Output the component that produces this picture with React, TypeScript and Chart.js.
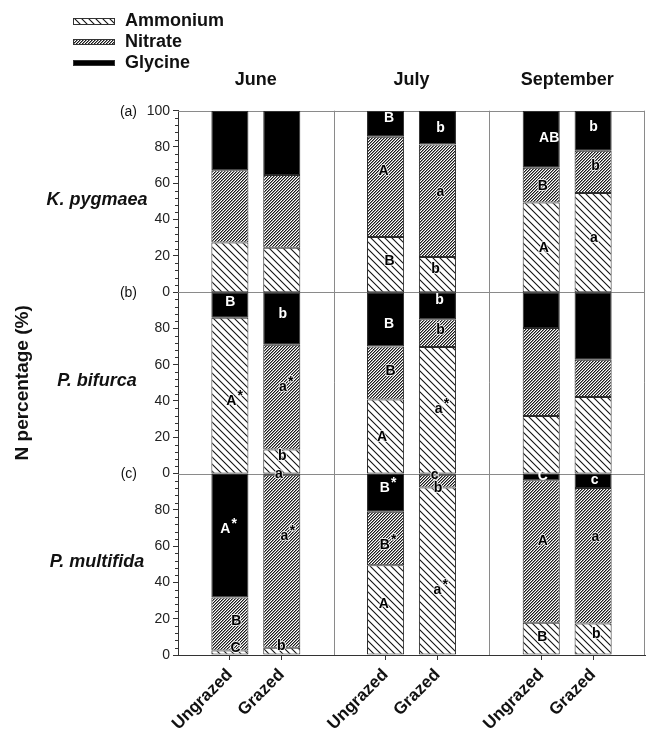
import React, { useEffect, useRef } from 'react';
import { Chart, registerables } from 'chart.js';

Chart.register(...registerables);

const FONT = "'Liberation Sans', Arial, Helvetica, sans-serif";

const months = ['June', 'July', 'September'];
const treatments = ['Ungrazed', 'Grazed'];
const nutrients = ['Ammonium', 'Nitrate', 'Glycine'];
const species = ['K. pygmaea', 'P. bifurca', 'P. multifida'];
const panelTags = ['(a)', '(b)', '(c)'];

// order of bars: June-Ungrazed, June-Grazed, July-Ungrazed, July-Grazed, Sept-Ungrazed, Sept-Grazed
const kpAmmonium = [27.3, 24.5, 30.4, 19.3, 49.4, 54.7];
const kpNitrate = [39.9, 40.0, 55.2, 62.1, 19.1, 23.2];
const kpGlycine = [32.8, 35.5, 14.4, 18.6, 31.5, 22.1];

const pbAmmonium = [85.9, 13.2, 40.8, 69.8, 31.7, 42.2];
const pbNitrate = [0.0, 57.8, 29.3, 15.2, 48.5, 20.6];
const pbGlycine = [14.1, 29.0, 29.9, 15.0, 19.8, 37.2];

const pmAmmonium = [2.5, 4.0, 49.5, 92.3, 17.8, 17.4];
const pmNitrate = [29.2, 95.4, 29.4, 7.1, 78.5, 74.6];
const pmGlycine = [68.3, 0.6, 21.1, 0.6, 3.7, 8.0];

// significance letters: [panel, bar, value (%), x shift (px), text, white]
const sigLetters: [number, number, number, number, string, number][] = [
  [0, 2, 96.0, 3.5, 'B', 1], [0, 2, 66.7, -2, 'A', 0], [0, 2, 17.1, 4, 'B', 0],
  [0, 3, 90.4, 3, 'b', 1], [0, 3, 55.1, 3, 'a', 0], [0, 3, 12.5, -2, 'b', 0],
  [0, 4, 84.7, 8, 'AB', 1], [0, 4, 58.4, 1.6, 'B', 0], [0, 4, 24.3, 2.6, 'A', 0],
  [0, 5, 90.8, 0.5, 'b', 1], [0, 5, 69.4, 2.5, 'b', 0], [0, 5, 29.5, 0.8, 'a', 0],
  [1, 0, 94.7, 0.4, 'B', 1], [1, 0, 39.8, 1.4, 'A*', 0],
  [1, 1, 87.9, 1, 'b', 1], [1, 1, 47.7, 1, 'a*', 0], [1, 1, 9.7, 0.4, 'b', 0],
  [1, 2, 82.6, 3.5, 'B', 1], [1, 2, 56.3, 5, 'B', 0], [1, 2, 20.2, -3.5, 'A', 0],
  [1, 3, 95.4, 2.2, 'b', 1], [1, 3, 79.3, 3.2, 'b', 0], [1, 3, 35.4, 1.2, 'a*', 0],
  [2, 0, 69.2, -4.6, 'A*', 1], [2, 0, 18.9, 6.4, 'B', 0], [2, 0, 3.7, 5.7, 'C', 0],
  [2, 1, 99.6, -3, 'a', 0], [2, 1, 65.5, 2.7, 'a*', 0], [2, 1, 5.0, -0.6, 'b', 0],
  [2, 2, 92.1, -0.8, 'B*', 1], [2, 2, 60.5, -0.8, 'B*', 0], [2, 2, 27.9, -1.8, 'A', 0],
  [2, 3, 99.0, -2.8, 'c', 0], [2, 3, 92.1, 0.5, 'b', 0], [2, 3, 35.8, 0, 'a*', 0],
  [2, 4, 98.5, 1.6, 'C', 1], [2, 4, 62.7, 1.6, 'A', 0], [2, 4, 10.1, 1, 'B', 0],
  [2, 5, 96.3, 1.5, 'c', 1], [2, 5, 65.1, 2.2, 'a', 0], [2, 5, 11.4, 3.2, 'b', 0],
];

const panelValues = [
  [kpAmmonium, kpNitrate, kpGlycine],
  [pbAmmonium, pbNitrate, pbGlycine],
  [pmAmmonium, pmNitrate, pmGlycine],
];

// x positions: each month takes 3 units, bars at 1/3 and 2/3 of the group
const barX: number[] = months.flatMap((_, m) => treatments.map((__, t) => 3 * m + 1 + t));
const panelBase = (p: number) => (panelValues.length - 1 - p) * 100;

function makePattern(size: number, draw: (g: CanvasRenderingContext2D, s: number) => void) {
  const c = document.createElement('canvas');
  c.width = size;
  c.height = size;
  const g = c.getContext('2d')!;
  g.fillStyle = '#ffffff';
  g.fillRect(0, 0, size, size);
  draw(g, size);
  return g.createPattern(c, 'repeat')!;
}

export default function App() {
  const ref = useRef<HTMLCanvasElement>(null);

  useEffect(() => {
    const canvas = ref.current!;
    const ammoniumFill = makePattern(7, (g, s) => {
      g.strokeStyle = '#111';
      g.lineWidth = 1.1;
      for (let k = -1; k <= 1; k++) {
        g.beginPath();
        g.moveTo(k * s - 1, -1);
        g.lineTo(k * s + s + 1, s + 1);
        g.stroke();
      }
    });
    const nitrateFill = makePattern(3, (g, s) => {
      for (let r = 0; r < s; r++) {
        const c = s - 1 - r;
        g.fillStyle = '#1a1a1a';
        g.fillRect(c, r, 1, 1);
        g.fillStyle = '#8a8a8a';
        g.fillRect((c + 1) % s, r, 1, 1);
      }
    });
    const fills: (string | CanvasPattern)[] = [ammoniumFill, nitrateFill, '#000000'];

    const datasets = nutrients.map((name, n) => {
      const data: { x: number; y: [number, number] }[] = [];
      panelValues.forEach((vals, p) => {
        barX.forEach((x, i) => {
          let lo = panelBase(p);
          for (let k = 0; k < n; k++) lo += vals[k][i];
          data.push({ x, y: [lo, lo + vals[n][i]] });
        });
      });
      return {
        label: name,
        data,
        backgroundColor: fills[n],
        borderColor: '#2a2a2a',
        borderWidth: 1,
        borderSkipped: false,
        grouped: false,
        barPercentage: 0.714,
        categoryPercentage: 1,
      };
    });

    const decor = {
      id: 'decor',
      beforeDatasetsDraw(chart: any) {
        const { ctx, chartArea: a, scales } = chart;
        const x = scales.x, y = scales.y;
        ctx.save();
        ctx.strokeStyle = '#8a8a8a';
        ctx.lineWidth = 1;
        ctx.beginPath();
        for (let m = 1; m < months.length; m++) {
          const px = Math.round(x.getPixelForValue(3 * m)) + 0.5;
          ctx.moveTo(px, a.top);
          ctx.lineTo(px, a.bottom);
        }
        for (let p = 1; p <= panelValues.length; p++) {
          const py = Math.round(y.getPixelForValue(p * 100)) + 0.5;
          ctx.moveTo(a.left, py);
          ctx.lineTo(a.right, py);
        }
        const rx = Math.round(a.right) - 0.5;
        ctx.moveTo(rx, a.top);
        ctx.lineTo(rx, a.bottom);
        ctx.stroke();
        ctx.restore();
      },
      afterDatasetsDraw(chart: any) {
        const { ctx, scales } = chart;
        const x = scales.x, y = scales.y;
        ctx.save();
        ctx.font = `bold 14px ${FONT}`;
        ctx.textAlign = 'center';
        ctx.textBaseline = 'middle';
        ctx.lineJoin = 'round';
        for (const [p, bar, v, dx, text, white] of sigLetters) {
          const px = x.getPixelForValue(barX[bar]) + dx;
          const py = y.getPixelForValue(panelBase(p) + v);
          const star = text.endsWith('*');
          const letter = star ? text.slice(0, -1) : text;
          const w = ctx.measureText(letter).width;
          if (!white) {
            ctx.strokeStyle = 'rgba(255,255,255,0.75)';
            ctx.lineWidth = 2;
            ctx.strokeText(letter, px, py);
            if (star) ctx.strokeText('*', px + w / 2 + 4, py - 5);
          }
          ctx.fillStyle = white ? '#ffffff' : '#000000';
          ctx.fillText(letter, px, py);
          if (star) ctx.fillText('*', px + w / 2 + 4, py - 5);
        }
        ctx.restore();
      },
      afterDraw(chart: any) {
        const { ctx, chartArea: a, scales } = chart;
        const x = scales.x, y = scales.y;
        ctx.save();
        // minor ticks
        ctx.strokeStyle = '#333';
        ctx.lineWidth = 1;
        ctx.beginPath();
        for (let v = 0; v <= 300; v += 4) {
          if (v % 20 === 0) continue;
          const py = Math.round(y.getPixelForValue(v)) + 0.5;
          ctx.moveTo(a.left - 3, py);
          ctx.lineTo(a.left, py);
        }
        ctx.stroke();
        // month titles
        ctx.fillStyle = '#111';
        ctx.font = `bold 18px ${FONT}`;
        ctx.textAlign = 'center';
        ctx.textBaseline = 'middle';
        months.forEach((m, i) => {
          ctx.fillText(m, x.getPixelForValue(3 * i + 1.5), 80);
        });
        // panel tags and species names
        panelTags.forEach((tag, p) => {
          ctx.font = `14px ${FONT}`;
          ctx.textAlign = 'right';
          ctx.fillText(tag, 137, y.getPixelForValue(panelBase(p) + 100) + 1);
          ctx.font = `italic bold 18px ${FONT}`;
          ctx.textAlign = 'center';
          ctx.fillText(species[p], 97, y.getPixelForValue(panelBase(p) + 51));
        });
        // legend
        const legendY = [21.5, 42, 63];
        chart.data.datasets.forEach((ds: any, i: number) => {
          const h = i === 0 ? 7 : 6;
          const top = legendY[i] - h / 2;
          ctx.fillStyle = ds.backgroundColor;
          ctx.fillRect(73, top, 42, h);
          ctx.strokeStyle = '#333';
          ctx.strokeRect(73.5, top + 0.5, 41, h - 1);
          ctx.fillStyle = '#111';
          ctx.font = `bold 18px ${FONT}`;
          ctx.textAlign = 'left';
          ctx.fillText(ds.label, 125, legendY[i]);
        });
        ctx.restore();
      },
    };

    const chart = new Chart(canvas, {
      type: 'bar',
      data: { datasets: datasets as any },
      options: {
        responsive: false,
        animation: false,
        devicePixelRatio: 1,
        layout: { padding: { top: 110.7, right: 1, bottom: 0, left: 0 } },
        plugins: { legend: { display: false }, tooltip: { enabled: false } },
        scales: {
          x: {
            type: 'linear',
            min: 0,
            max: 9,
            offset: false,
            afterBuildTicks: (s: any) => {
              s.ticks = barX.map((v) => ({ value: v }));
            },
            afterFit: (s: any) => {
              s.height = 76;
            },
            ticks: {
              autoSkip: false,
              minRotation: 45,
              maxRotation: 45,
              padding: 5,
              color: '#111',
              font: { family: FONT, size: 17, weight: 'bold' },
              callback: (v: any) => {
                const i = barX.indexOf(Number(v));
                return i < 0 ? '' : treatments[i % treatments.length];
              },
            },
            grid: { offset: false, drawOnChartArea: false, tickLength: 5, color: '#333' },
            border: { color: '#333', width: 1 },
          },
          y: {
            type: 'linear',
            min: 0,
            max: 300,
            afterFit: (s: any) => {
              s.width = 178;
            },
            ticks: {
              stepSize: 20,
              autoSkip: false,
              padding: 3,
              color: '#222',
              font: { family: FONT, size: 14 },
              callback: (v: any) => (Number(v) === 300 ? '100' : String(Number(v) % 100)),
            },
            grid: { drawOnChartArea: false, tickLength: 5, color: '#333' },
            border: { color: '#333', width: 1 },
            title: {
              display: true,
              text: 'N percentage (%)',
              color: '#111',
              font: { family: FONT, size: 19, weight: 'bold' },
              padding: { top: 11, bottom: 0 },
            },
          },
        },
      } as any,
      plugins: [decor],
    });
    return () => chart.destroy();
  }, []);

  return (
    <div style={{ position: 'fixed', left: 0, top: 0, width: 646, height: 731, background: '#fff' }}>
      <canvas ref={ref} width={646} height={731} style={{ display: 'block' }} />
    </div>
  );
}
